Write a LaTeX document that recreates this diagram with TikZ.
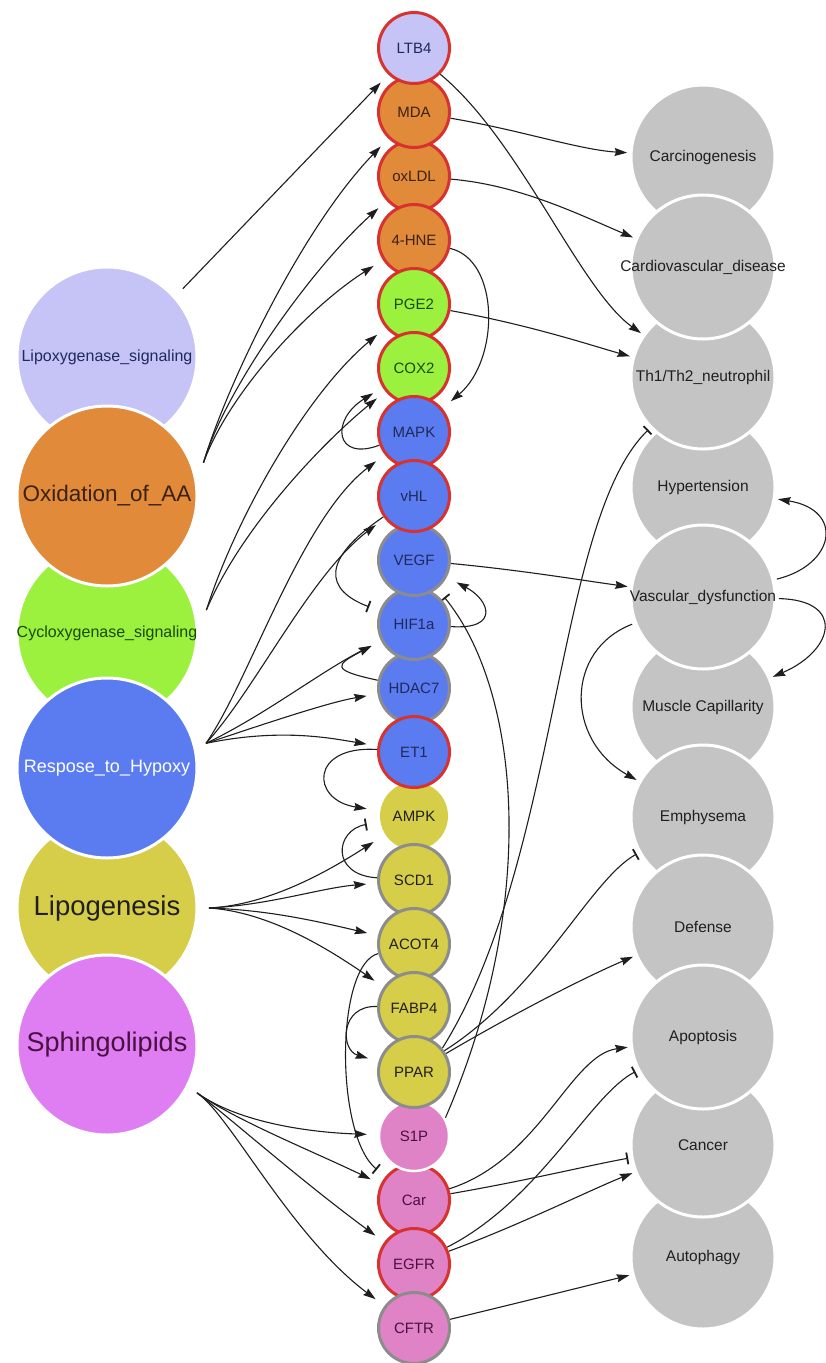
\documentclass[tikz,border=0pt]{standalone}
\usepackage{fontspec}
\setmainfont{Liberation Sans}
\usetikzlibrary{arrows.meta}
\pgfdeclarelayer{edges}
\pgfsetlayers{edges,main}
\definecolor{lavC}{HTML}{C6C3F6}
\definecolor{oraC}{HTML}{E08A3A}
\definecolor{limC}{HTML}{9CF03E}
\definecolor{bluC}{HTML}{5A7CF0}
\definecolor{yelC}{HTML}{D6CD48}
\definecolor{pnkC}{HTML}{E083C6}
\definecolor{sphC}{HTML}{DE7EF2}
\definecolor{disC}{HTML}{C4C4C4}
\definecolor{redB}{HTML}{D8322E}
\definecolor{greyB}{HTML}{8C8C8C}
\definecolor{edgeC}{HTML}{1E1E1E}
\definecolor{navyT}{HTML}{1E2A5A}
\definecolor{brownT}{HTML}{3A2210}
\definecolor{greenT}{HTML}{1A4A0A}
\definecolor{purpT}{HTML}{4A1040}
\definecolor{darkT}{HTML}{202020}
\begin{document}
\begin{tikzpicture}[x=1pt,y=-1pt,
  midnode/.style={circle, minimum size=71pt, inner sep=0pt, line width=3pt,
    font=\fontsize{15}{17}\selectfont},
  redn/.style={midnode, draw=redB},
  greyn/.style={midnode, draw=greyB},
  bignode/.style={circle, minimum size=180pt, inner sep=0pt, draw=white,
    line width=3pt, outer sep=12pt},
  disnode/.style={circle, minimum size=144pt, inner sep=0pt, draw=white,
    line width=3pt, outer sep=4pt, fill=disC},
  dislabel/.style={font=\fontsize{15.5}{17}\selectfont, text=darkT},
  act/.style={draw=edgeC, line width=1.1pt, -{Stealth[length=12.5pt,width=8pt,inset=1.5pt]}},
  inh/.style={draw=edgeC, line width=1.1pt, -{Bar[width=12pt,line width=1.8pt]}},
  tm/.style={shorten >=11pt}]
\useasboundingbox (0,0) rectangle (826,1363);
\begin{pgfonlayer}{edges}
\fill[white] (0,0) rectangle (826,1363);
\end{pgfonlayer}

% ---------- left pathway circles ----------
\node[bignode, fill=lavC, label={[font=\fontsize{16}{18}\selectfont, text=navyT]center:Lipoxygenase\_signaling}] (lipox) at (107,357) {};
\node[bignode, fill=limC, label={[font=\fontsize{16}{18}\selectfont, text=greenT]center:Cycloxygenase\_signaling}] (cyclo) at (107,633) {};
\node[bignode, fill=yelC, label={[font=\fontsize{27.5}{30}\selectfont, text=darkT]center:Lipogenesis}] (lipog) at (107,908) {};
\node[bignode, fill=oraC, label={[font=\fontsize{22.5}{25}\selectfont, text=brownT]center:Oxidation\_of\_AA}] (oxid) at (107,496) {};
\node[bignode, fill=bluC, label={[font=\fontsize{18}{20}\selectfont, text=white]center:Respose\_to\_Hypoxy}] (resp) at (107,768) {};
\node[bignode, fill=sphC, label={[font=\fontsize{27}{30}\selectfont, text=purpT]center:Sphingolipids}] (sphingo) at (107,1045) {};

% ---------- middle column ----------
\node[redn, fill=oraC, text=brownT] (oxldl) at (414,176) {oxLDL};
\node[redn, fill=oraC, text=brownT] (mda) at (414,112) {MDA};
\node[redn, fill=lavC, text=navyT] (ltb4) at (414,48) {LTB4};
\node[redn, fill=oraC, text=brownT] (hne) at (414,240) {4-HNE};
\node[redn, fill=limC, text=greenT] (pge2) at (414,304) {PGE2};
\node[redn, fill=limC, text=greenT] (cox2) at (414,368) {COX2};
\node[redn, fill=bluC, text=navyT] (mapk) at (414,432) {MAPK};
\node[greyn, fill=bluC, text=navyT] (hdac) at (414,688) {HDAC7};
\node[greyn, fill=bluC, text=navyT] (hif) at (414,624) {HIF1a};
\node[greyn, fill=bluC, text=navyT] (vegf) at (414,560) {VEGF};
\node[redn, fill=bluC, text=navyT] (vhl) at (414,496) {vHL};
\node[midnode, fill=yelC, text=darkT, minimum size=68pt, outer sep=3pt] (ampk) at (414,816) {AMPK};
\node[redn, fill=bluC, text=navyT] (et1) at (414,752) {ET1};
\node[greyn, fill=yelC, text=darkT] (scd1) at (414,880) {SCD1};
\node[greyn, fill=yelC, text=darkT] (acot4) at (414,944) {ACOT4};
\node[greyn, fill=yelC, text=darkT] (fabp4) at (414,1008) {FABP4};
\node[redn, fill=pnkC, text=purpT] (car) at (414,1200) {Car};
\node[midnode, fill=pnkC, text=purpT, draw=white, minimum size=70pt, line width=2.5pt] (s1p) at (414,1136) {S1P};
\node[greyn, fill=yelC, text=darkT] (ppar) at (414,1072) {PPAR};
\node[redn, fill=pnkC, text=purpT] (egfr) at (414,1264) {EGFR};
\node[greyn, fill=pnkC, text=purpT] (cftr) at (414,1328) {CFTR};

% ---------- right disease circles ----------
\node[disnode, label={[dislabel]center:Carcinogenesis}] (carc) at (703,157) {};
\node[disnode, label={[dislabel]center:Hypertension}] (hyper) at (703,487) {};
\node[disnode, label={[dislabel]center:Th1/Th2\_neutrophil}] (th1) at (703,377) {};
\node[disnode, label={[dislabel]center:Cardiovascular\_disease}] (cardio) at (703,267) {};
\node[disnode, label={[dislabel]center:Muscle Capillarity}] (muscle) at (703,707) {};
\node[disnode, label={[dislabel]center:Vascular\_dysfunction}] (vasc) at (703,597) {};
\node[disnode, label={[dislabel]center:Emphysema}] (emph) at (703,817) {};
\node[disnode, label={[dislabel]center:Defense}] (def) at (703,927) {};
\node[disnode, label={[dislabel]center:Autophagy}] (auto) at (703,1257) {};
\node[disnode, label={[dislabel]center:Cancer}] (cancer) at (703,1145) {};
\node[disnode, label={[dislabel]center:Apoptosis}] (apop) at (703,1037) {};

% ---------- connectors ----------
\begin{pgfonlayer}{edges}
% pathways -> molecules
\draw[act,tm] (lipox.42) -- (ltb4);
\draw[act,tm] (oxid.19) .. controls (225,390) and (300,230) .. (mda);
\draw[act,tm] (oxid.19) .. controls (225,390) and (310,270) .. (oxldl);
\draw[act,tm] (oxid.19) .. controls (228,395) and (305,310) .. (hne);
\draw[act,tm] (cyclo.13) .. controls (235,520) and (305,395) .. (pge2);
\draw[act,tm] (cyclo.13) .. controls (240,530) and (320,445) .. (cox2);
\draw[act,tm] (resp.14) .. controls (250,680) and (300,520) .. (mapk);
\draw[act,tm] (resp.14) .. controls (255,690) and (310,575) .. (vhl);
\draw[act,tm] (resp.14) .. controls (265,715) and (320,672) .. (hif);
\draw[act,tm] (resp.14) .. controls (270,722) and (330,702) .. (hdac);
\draw[act,tm] (resp.14) .. controls (280,728) and (330,738) .. (et1);
\draw[act,tm] (lipog.0) .. controls (270,905) and (330,870) .. (ampk);
\draw[act,tm] (lipog.0) .. controls (270,905) and (320,888) .. (scd1);
\draw[act,tm] (lipog.0) .. controls (270,910) and (320,922) .. (acot4);
\draw[act,tm] (lipog.0) .. controls (270,912) and (330,950) .. (fabp4);
\draw[act,tm] (sphingo.332) .. controls (235,1120) and (300,1132) .. (s1p);
\draw[act,tm] (sphingo.332) .. controls (235,1120) and (310,1150) .. (car);
\draw[act,tm] (sphingo.332) .. controls (230,1118) and (300,1180) .. (egfr);
\draw[act,tm] (sphingo.332) .. controls (230,1115) and (290,1235) .. (cftr);
% loops on the left of the column
\draw[act,tm] (mapk) .. controls (335,462) and (330,420) .. (cox2);
\draw[inh,tm] (vhl) .. controls (320,560) and (325,590) .. (hif);
\draw[act,tm] (hdac) .. controls (330,670) and (335,665) .. (hif);
\draw[act,tm] (et1) .. controls (310,745) and (310,800) .. (ampk);
\draw[inh,tm] (scd1) .. controls (330,875) and (335,830) .. (ampk);
\draw[act,tm] (fabp4) .. controls (340,1005) and (340,1050) .. (ppar);
\draw[inh,tm] (acot4) .. controls (335,965) and (335,1135) .. (car);
% loops on the right of the column
\draw[act,tm] (hne) .. controls (500,260) and (500,360) .. (mapk);
\draw[act,tm] (hif) .. controls (500,630) and (490,600) .. (vegf);
\draw[inh,tm] (s1p.30) .. controls (540,900) and (520,690) .. (vegf);
% molecules -> diseases
\draw[act] (ltb4.315) .. controls (520,140) and (580,290) .. (th1);
\draw[act] (mda) .. controls (520,130) and (580,150) .. (carc);
\draw[act] (oxldl) .. controls (520,185) and (580,215) .. (cardio);
\draw[act] (pge2) .. controls (530,325) and (590,345) .. (th1);
\draw[act] (vegf) .. controls (520,570) and (580,580) .. (vasc);
\draw[inh] (ppar.40) .. controls (560,860) and (555,520) .. (th1);
\draw[inh] (ppar.35) .. controls (540,990) and (590,880) .. (emph);
\draw[act] (ppar.30) .. controls (520,1010) and (590,975) .. (def);
\draw[act] (car) .. controls (540,1160) and (570,1055) .. (apop);
\draw[inh] (car) .. controls (530,1180) and (590,1165) .. (cancer);
\draw[inh] (egfr) .. controls (540,1200) and (590,1095) .. (apop);
\draw[act] (egfr) .. controls (520,1225) and (590,1190) .. (cancer);
\draw[act] (cftr) .. controls (530,1300) and (590,1285) .. (auto);
% disease -> disease
\draw[act] (vasc) .. controls (835,565) and (845,510) .. (hyper);
\draw[act] (vasc) .. controls (845,600) and (835,650) .. (muscle);
\draw[act] (vasc) .. controls (565,650) and (565,740) .. (emph);
\end{pgfonlayer}
\end{tikzpicture}
\end{document}
